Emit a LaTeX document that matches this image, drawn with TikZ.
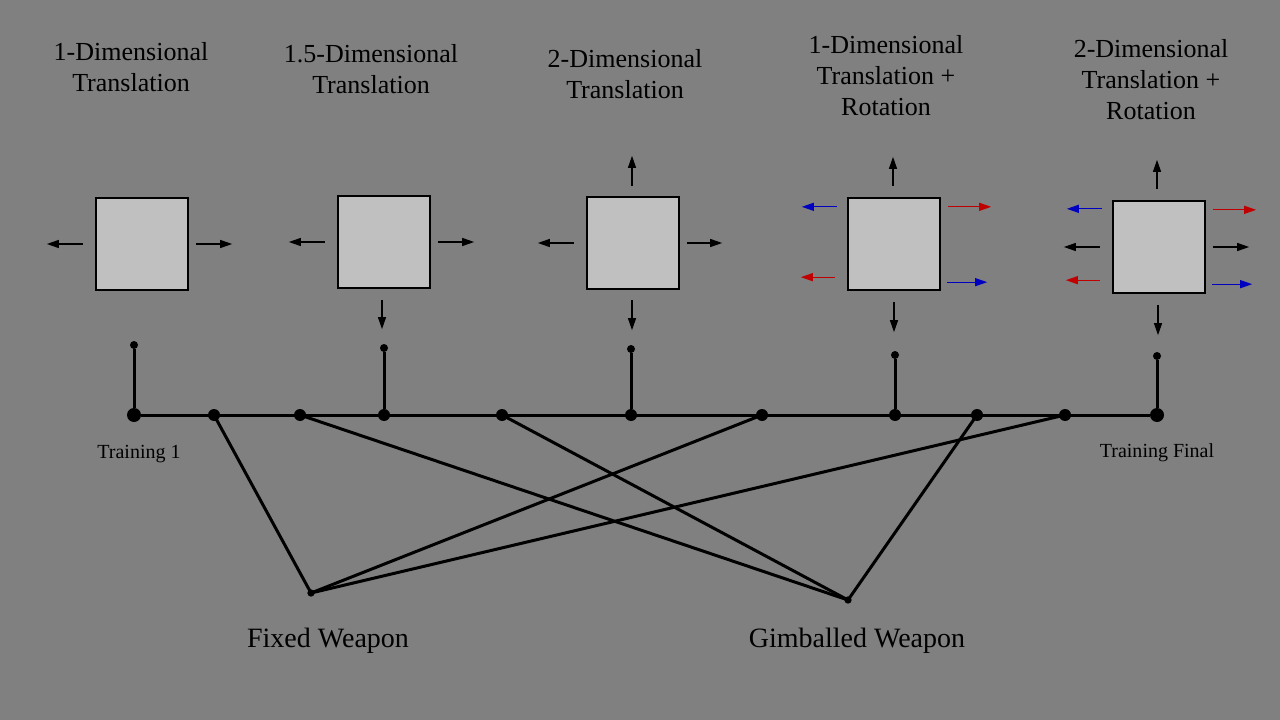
\documentclass[tikz,border=0pt]{standalone}
\usepackage{fontspec}
\setmainfont{Liberation Serif}
\usetikzlibrary{positioning,arrows.meta}
\definecolor{bggray}{HTML}{808080}
\definecolor{boxgray}{HTML}{C0C0C0}
\definecolor{rotred}{HTML}{C00000}
\definecolor{rotblue}{HTML}{0000C0}

\begin{document}
\begin{tikzpicture}[
		x=0.75pt, y=-0.75pt,
		title/.style={anchor=north, align=center, inner sep=0pt,
				font=\fontsize{19.5}{23.25}\selectfont},
		tag/.style={anchor=base, inner sep=0pt},
		mode/.style={draw, fill=boxgray, line width=1.75pt,
				minimum size=69pt, inner sep=0pt},
		move/.style={line width=0.9pt, -{Triangle[length=9pt,width=6pt]}},
		link/.style={line width=2.25pt},
		dot/.style={circle, fill, inner sep=0pt, minimum size=9pt},
		bigdot/.style={dot, minimum size=10.5pt},
		tipdot/.style={dot, minimum size=6pt}
	]
	\fill[bggray] (0,0) rectangle (1280,720);

	% titles
	\node[title] (h1) at (131,42) {1-Dimensional\\Translation};
	\node[title] (h2) at (371,44) {1.5-Dimensional\\Translation};
	\node[title] (h3) at (625,49) {2-Dimensional\\Translation};
	\node[title] (h4) at (886,35) {1-Dimensional\\Translation +\\Rotation};
	\node[title] (h5) at (1151,39) {2-Dimensional\\Translation +\\Rotation};

	% modes
	\node[mode] (b1) at (142,244) {};
	\node[mode] (b2) at (384,242) {};
	\node[mode] (b3) at (633,243) {};
	\node[mode] (b4) at (894,244) {};
	\node[mode] (b5) at (1159,247) {};

	\draw[move] (b1.west) ++(-12,0) -- ++(-36,0);
	\draw[move] (b1.east) ++(7,0) -- ++(36,0);

	\draw[move] (b2.west) ++(-12,0) -- ++(-36,0);
	\draw[move] (b2.east) ++(7,0) -- ++(36,0);
	\draw[move] (b2.south) ++(-2,11) -- ++(0,29);

	\draw[move] (b3.west) ++(-12,0) -- ++(-36,0);
	\draw[move] (b3.east) ++(7,0) -- ++(35,0);
	\draw[move] (b3.north) ++(-1,-10) -- ++(0,-30);
	\draw[move] (b3.south) ++(-1,10) -- ++(0,30);

	\draw[move] (b4.north) ++(-1,-11) -- ++(0,-29);
	\draw[move] (b4.south) ++(0,11) -- ++(0,30);
	\draw[move, rotblue] (b4.north west) ++(-10,10) -- ++(-35,0);
	\draw[move, rotred] (b4.south west) ++(-12,-14) -- ++(-34,0);
	\draw[move, rotred] (b4.north east) ++(7,10) -- ++(43,0);
	\draw[move, rotblue] (b4.south east) ++(6,-9) -- ++(40,0);

	\draw[move] (b5.north) ++(-2,-11) -- ++(0,-29);
	\draw[move] (b5.south) ++(-1,11) -- ++(0,30);
	\draw[move, rotblue] (b5.north west) ++(-10,9) -- ++(-35,0);
	\draw[move] (b5.west) ++(-12,0) -- ++(-36,0);
	\draw[move, rotred] (b5.south west) ++(-12,-14) -- ++(-34,0);
	\draw[move, rotred] (b5.north east) ++(7,10) -- ++(43,0);
	\draw[move] (b5.east) ++(7,0) -- ++(36,0);
	\draw[move, rotblue] (b5.south east) ++(6,-10) -- ++(40,0);

	% training line
	\node[bigdot] (t1) at (134,415) {};
	\node[dot] (f1) at (214,415) {};
	\node[dot] (g1) at (300,415) {};
	\node[dot] (m2) at (384,415) {};
	\node[dot] (g2) at (502,415) {};
	\node[dot] (m3) at (631,415) {};
	\node[dot] (f2) at (762,415) {};
	\node[dot] (m4) at (895,415) {};
	\node[dot] (g3) at (977,415) {};
	\node[dot] (f3) at (1065,415) {};
	\node[bigdot] (tf) at (1157,415) {};

	\node[tipdot] (p1) at (134,345) {};
	\node[tipdot] (p2) at (384,348) {};
	\node[tipdot] (p3) at (631,349) {};
	\node[tipdot] (p4) at (895,355) {};
	\node[tipdot] (p5) at (1157,356) {};

	\node[dot, minimum size=5.5pt] (fw) at (311,593) {};
	\node[dot, minimum size=5.5pt] (gw) at (848,600) {};

	\draw[link] (t1) -- (tf);
	\draw[link] (t1) -- (p1);
	\draw[link] (m2) -- (p2);
	\draw[link] (m3) -- (p3);
	\draw[link] (m4) -- (p4);
	\draw[link] (tf) -- (p5);

	\draw[link] (f1.center) -- (fw.center);
	\draw[link] (f2.center) -- (fw.center);
	\draw[link] (f3.center) -- (fw.center);
	\draw[link] (g1.center) -- (gw.center);
	\draw[link] (g2.center) -- (gw.center);
	\draw[link] (g3.center) -- (gw.center);

	% labels
	\node[tag, font=\fontsize{15}{18}\selectfont] (l1) at (139,458) {Training 1};
	\node[tag, font=\fontsize{15}{18}\selectfont] (lf) at (1157,457) {Training Final};
	\node[tag, font=\fontsize{21}{25}\selectfont] (lfw) at (328,647) {Fixed Weapon};
	\node[tag, font=\fontsize{21}{25}\selectfont] (lgw) at (857,647) {Gimballed Weapon};
\end{tikzpicture}
\end{document}
